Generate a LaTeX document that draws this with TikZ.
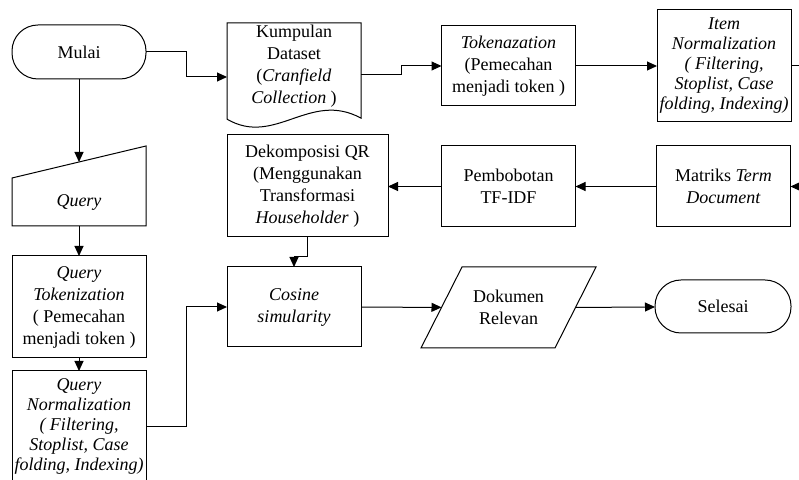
\documentclass[tikz,border=0pt]{standalone}
\usepackage{fontspec}
\setmainfont{Liberation Serif}
\usetikzlibrary{arrows.meta}

\begin{document}
\begin{tikzpicture}[x=0.5pt, y=-0.5pt,
    line width=0.5pt,
    >={Triangle[length=5pt,width=4.5pt]},
    B/.style = {rectangle, draw, align=center,% styles of process boxes
                inner sep=1pt, outer sep=0pt,
                minimum width=67pt, minimum height=40pt,
                font=\fontsize{9}{11}\selectfont},
    T/.style = {B, rounded corners=13pt, minimum height=27pt},% start / end
    N/.style = {B, draw=none},% text only, outline drawn by hand
    S/.style = {font=\fontsize{9}{10}\selectfont},% five text lines
                        ]
\useasboundingbox (0,0) rectangle (799,480);
\clip (0,0) rectangle (799,480);
% nodes
\node[T] (mulai) at (79,52) {Mulai};
\node[N, minimum height=41pt] (data) at (294,66)
    {Kumpulan\\Dataset\\(\textit{Cranfield}\\\textit{Collection} )};
\node[B] (tok) at (508.5,66) {\textit{Tokenazation}\\(Pemecahan\\menjadi token )};
\node[B, S, minimum height=56pt] (item) at (724,66)
    {\textit{Item}\\\textit{Normalization}\\\textit{( Filtering,}\\\textit{Stoplist, Case}\\\textit{folding, Indexing)}};
\node[B, minimum height=40.5pt] (mat) at (723.5,186.5) {Matriks \textit{Term}\\\textit{Document}};
\node[B, minimum height=40.5pt] (pemb) at (508.5,186.5) {Pembobotan\\TF-IDF};
\node[B, minimum width=80.5pt, minimum height=51pt] (dek) at (307.5,186)
    {Dekomposisi QR\\(Menggunakan\\Transformasi\\\textit{Householder} )};
\node[B] (cos) at (294,307) {\textit{Cosine}\\\textit{simularity}};
\node[N, minimum height=40.5pt] (dok) at (508.5,307.5) {Dokumen\\Relevan};
\node[T, minimum width=68pt, minimum height=26.5pt] (sel) at (723,306.5) {Selesai};
\node[N, minimum height=24pt] (query) at (79,202) {\textit{Query}};
\node[B, minimum height=51pt] (qtok) at (79,307)
    {\textit{Query}\\\textit{Tokenization}\\( Pemecahan\\menjadi token )};
\node[B, S, minimum height=55.5pt] (qnorm) at (79,426.5)
    {\textit{Query}\\\textit{Normalization}\\\textit{( Filtering,}\\\textit{Stoplist, Case}\\\textit{folding, Indexing)}};
% outlines
\draw ([shift={(0,10)}]data.south west) -- (data.north west) -- (data.north east)
   -- ([shift={(0,9)}]data.south east)
   .. controls ([shift={(-51,-19)}]data.south east) and ([shift={(48,38)}]data.south west) .. cycle;
\draw (query.south west) -- (query.north west) -- ([shift={(0,-32)}]query.north east)
   -- (query.south east) -- cycle;
\draw ([shift={(-20.5,0)}]dok.south west) -- ([shift={(20.5,0)}]dok.north west)
   -- ([shift={(20.5,0)}]dok.north east) -- ([shift={(-20.5,0)}]dok.south east) -- cycle;
% connectors
\coordinate (qin) at ([shift={(0,-16)}]query.north);
\coordinate (rim) at (815,126);
\draw[->] (mulai) -- (qin);
\draw[->] (mulai.east) -- ++(40,0) |- ([shift={(0,11)}]data.west);
\draw[->] ([shift={(0,9)}]data.east) -- ++(40,0) |- (tok.west);
\draw[->] (tok) -- (item);
\draw[->] (item.east) -| (rim) |- (mat.east);
\draw[->] (mat) -- (pemb);
\draw[->] (pemb.west) -- (pemb.west -| dek.east);
\draw[->] (dek.south) -- ++(0,20) -| (cos.north);
\draw[->] (query) -- (qtok);
\draw[->] (qtok) -- (qnorm);
\draw[->] (qnorm.east) -- ++(40,0) |- (cos.west);
\draw[->] (cos) -- (dok);
\draw[->] (dok.east) -- (sel);
\end{tikzpicture}
\end{document}
